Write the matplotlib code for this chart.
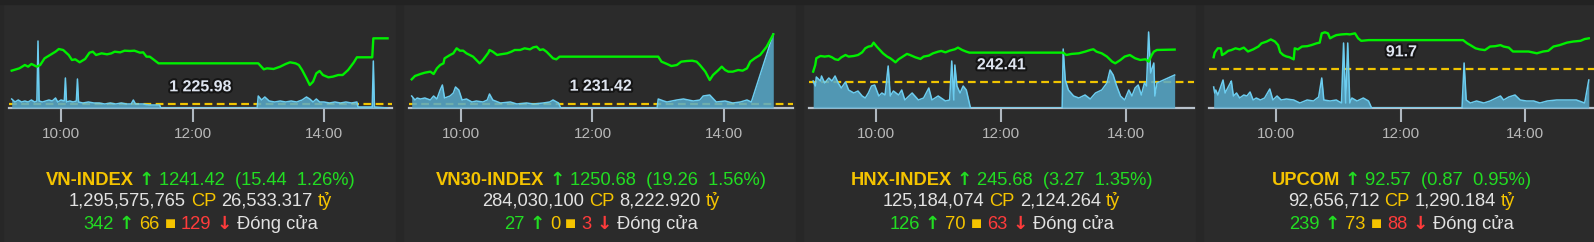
import matplotlib.pyplot as plt
import matplotlib.patheffects as pe
from matplotlib.patches import Rectangle

# Summary numbers under each chart.
names = ["VN-INDEX", "VN30-INDEX", "HNX-INDEX", "UPCOM"]
last = ["1241.42", "1250.68", "245.68", "92.57"]
change = ["15.44", "19.26", "3.27", "0.87"]
pct = ["1.26%", "1.56%", "1.35%", "0.95%"]
shares = ["1,295,575,765", "284,030,100", "125,184,074", "92,656,712"]
turnover = ["26,533.317", "8,222.920", "2,124.264", "1,290.184"]
ups = ["342", "27", "126", "239"]
flats = ["66", "0", "70", "73"]
downs = ["129", "3", "63", "88"]
refs = [1225.98, 1231.42, 242.41, 91.7]
ref_labels = ["1 225.98", "1 231.42", "242.41", "91.7"]

# VN-INDEX intraday
vni_t = ["9:15", "9:22", "9:27", "9:30", "9:33", "9:38", "9:41", "9:45", "9:50", "9:55",
         "9:58", "10:02", "10:07", "10:10", "10:13", "10:17", "10:22", "10:26", "10:29", "10:32",
         "10:37", "10:42", "10:46", "10:49", "10:54", "10:58", "11:03", "11:07", "11:12", "11:15",
         "11:18", "11:21", "11:29", "13:00", "13:05", "13:08", "13:14", "13:20", "13:25", "13:29",
         "13:34", "13:37", "13:40", "13:44", "13:47", "13:50", "13:53", "13:56", "13:59", "14:04",
         "14:08", "14:13", "14:17", "14:22", "14:27", "14:30", "14:44", "14:45", "14:58"]
vni_p = [1233.86, 1234.40, 1235.18, 1234.79, 1235.42, 1234.79, 1235.18, 1236.74, 1237.52, 1238.30,
         1238.92, 1238.69, 1237.52, 1236.35, 1236.51, 1235.81, 1236.59, 1238.07, 1238.30, 1237.52,
         1237.91, 1237.68, 1237.91, 1238.30, 1238.14, 1238.53, 1238.46, 1238.53, 1238.07, 1238.14,
         1237.13, 1237.13, 1235.57, 1235.57, 1234.17, 1234.40, 1234.25, 1234.79, 1235.42, 1235.81,
         1235.57, 1235.18, 1234.01, 1232.06, 1230.50, 1231.28, 1233.23, 1233.78, 1232.84, 1232.30,
         1232.45, 1232.84, 1232.84, 1234.01, 1235.73, 1236.98, 1236.98, 1241.42, 1241.42]
vni_vt = ["9:15", "9:18", "9:21", "9:24", "9:27", "9:30", "9:33", "9:36", "9:38", "9:39",
          "9:40", "9:43", "9:46", "9:49", "9:52", "9:55", "9:57", "10:00", "10:03", "10:04",
          "10:05", "10:08", "10:11", "10:14", "10:15", "10:16", "10:20", "10:25", "10:30", "10:35",
          "10:40", "10:45", "10:50", "10:55", "11:00", "11:04", "11:06", "11:08", "11:15", "11:20",
          "11:25", "11:30", "11:31", "12:59", "13:00", "13:03", "13:06", "13:10", "13:15", "13:20",
          "13:25", "13:30", "13:35", "13:40", "13:44", "13:47", "13:50", "13:53", "13:56", "14:00",
          "14:05", "14:10", "14:15", "14:20", "14:25", "14:30", "14:31", "14:44", "14:45", "14:46",
          "14:58"]
vni_v = [9, 6, 8, 6, 7, 6, 8, 6, 7, 67,
         7, 6, 7, 8, 7, 10, 6, 8, 7, 30,
         6, 7, 6, 7, 29, 6, 5, 6, 5, 5,
         4, 5, 4, 5, 4, 4, 8, 4, 4, 3,
         3, 3, 0, 0, 12, 8, 11, 7, 6, 7,
         6, 7, 6, 8, 11, 9, 6, 9, 6, 6,
         5, 6, 5, 6, 5, 6, 1, 1, 47, 1,
         0]

# VN30-INDEX intraday
vn30_t = ["9:15", "9:18", "9:23", "9:27", "9:32", "9:35", "9:38", "9:41", "9:44", "9:45",
          "9:50", "9:53", "9:56", "9:59", "10:02", "10:05", "10:08", "10:11", "10:14", "10:17",
          "10:20", "10:25", "10:26", "10:29", "10:33", "10:36", "10:42", "10:46", "10:49", "10:54",
          "10:58", "11:03", "11:06", "11:09", "11:12", "11:15", "11:18", "11:21", "11:24", "11:27",
          "11:30", "13:00", "13:03", "13:08", "13:12", "13:17", "13:21", "13:26", "13:31", "13:35",
          "13:38", "13:43", "13:47", "13:50", "13:55", "13:58", "14:01", "14:04", "14:08", "14:13",
          "14:17", "14:21", "14:24", "14:28", "14:33", "14:39", "14:45"]
vn30_p = [1238.18, 1239.11, 1239.66, 1240.03, 1240.31, 1239.66, 1241.23, 1242.16, 1242.62, 1244.01,
          1244.94, 1245.40, 1246.79, 1246.14, 1246.14, 1245.40, 1244.94, 1244.48, 1243.55, 1242.62,
          1243.55, 1245.59, 1246.33, 1245.86, 1244.94, 1245.12, 1245.40, 1245.86, 1246.33, 1246.33,
          1246.79, 1246.51, 1247.07, 1247.25, 1246.33, 1246.51, 1245.86, 1244.94, 1244.01, 1243.73,
          1244.48, 1244.48, 1243.09, 1242.44, 1241.88, 1242.16, 1243.09, 1243.27, 1243.36, 1243.09,
          1242.16, 1240.31, 1237.99, 1239.38, 1240.77, 1241.70, 1240.77, 1240.31, 1240.31, 1240.77,
          1240.59, 1241.23, 1243.09, 1244.01, 1244.94, 1247.25, 1250.68]
vn30_vt = ["9:15", "9:18", "9:20", "9:23", "9:27", "9:32", "9:35", "9:38", "9:41", "9:43",
           "9:45", "9:50", "9:53", "9:55", "9:58", "10:01", "10:05", "10:10", "10:14", "10:20",
           "10:24", "10:26", "10:29", "10:36", "10:45", "10:51", "11:00", "11:06", "11:15", "11:21",
           "11:24", "11:29", "11:31", "12:59", "13:00", "13:05", "13:08", "13:17", "13:23", "13:32",
           "13:38", "13:41", "13:47", "13:53", "14:01", "14:08", "14:15", "14:21", "14:25", "14:45"]
vn30_v = [12, 8, 10, 9, 10, 8, 12, 9, 18, 23,
          10, 12, 15, 21, 18, 8, 9, 6, 7, 6,
          8, 14, 8, 5, 6, 4, 5, 4, 5, 6,
          8, 5, 0, 0, 9, 7, 6, 8, 9, 7,
          8, 12, 13, 6, 7, 5, 6, 8, 6, 74]

# HNX-INDEX intraday
hnx_t = ["9:00", "9:02", "9:03", "9:07", "9:11", "9:15", "9:18", "9:21", "9:24", "9:27",
         "9:31", "9:34", "9:39", "9:43", "9:47", "9:50", "9:53", "9:56", "9:58", "10:01",
         "10:04", "10:07", "10:11", "10:14", "10:17", "10:19", "10:22", "10:25", "10:30", "10:33",
         "10:38", "10:43", "10:46", "10:51", "10:55", "11:00", "11:03", "11:07", "11:11", "11:16",
         "11:19", "11:23", "11:27", "11:30", "13:00", "13:03", "13:08", "13:15", "13:21", "13:26",
         "13:29", "13:32", "13:37", "13:42", "13:47", "13:50", "13:55", "13:59", "14:04", "14:09",
         "14:14", "14:19", "14:22", "14:25", "14:27", "14:30", "14:47"]
hnx_p = [243.49, 244.16, 244.84, 245.07, 245.01, 245.07, 244.94, 244.74, 244.67, 244.94,
         245.17, 245.01, 245.07, 245.17, 245.44, 245.85, 246.02, 246.08, 246.42, 246.02,
         245.68, 245.34, 245.01, 244.84, 244.60, 244.43, 244.74, 244.94, 245.28, 245.17,
         244.94, 244.77, 245.01, 245.11, 245.34, 245.51, 245.58, 245.44, 245.61, 245.75,
         245.92, 245.68, 245.51, 245.41, 245.41, 245.17, 245.28, 245.34, 245.51, 245.68,
         245.75, 245.51, 245.34, 245.01, 244.50, 244.33, 244.67, 245.01, 245.17, 244.84,
         244.67, 244.74, 244.50, 245.17, 245.51, 245.68, 245.72]
hnx_vt = ["9:00", "9:02", "9:03", "9:07", "9:08", "9:11", "9:15", "9:18", "9:21", "9:24",
          "9:27", "9:31", "9:34", "9:39", "9:43", "9:47", "9:50", "9:53", "9:56", "9:59",
          "10:03", "10:06", "10:09", "10:12", "10:14", "10:17", "10:22", "10:25", "10:28", "10:35",
          "10:41", "10:46", "10:51", "10:54", "11:00", "11:07", "11:11", "11:13", "11:15", "11:16",
          "11:18", "11:21", "11:24", "11:27", "11:31", "12:59", "13:00", "13:02", "13:05", "13:10",
          "13:15", "13:21", "13:26", "13:31", "13:37", "13:42", "13:45", "13:48", "13:51", "13:55",
          "13:59", "14:03", "14:06", "14:09", "14:12", "14:15", "14:18", "14:20", "14:22", "14:24",
          "14:27", "14:28", "14:30", "14:47"]
hnx_v = [27, 22, 31, 27, 32, 25, 30, 27, 32, 25,
         20, 26, 18, 15, 17, 12, 10, 15, 22, 23,
         12, 15, 13, 42, 12, 17, 13, 18, 8, 15,
         8, 10, 20, 8, 12, 7, 8, 47, 8, 43,
         22, 15, 22, 18, 0, 0, 59, 28, 18, 12,
         10, 13, 9, 15, 18, 25, 38, 33, 23, 12,
         8, 18, 12, 20, 23, 13, 25, 22, 76, 35,
         45, 12, 25, 33]

# UPCOM intraday
upc_t = ["9:00", "9:01", "9:04", "9:07", "9:08", "9:11", "9:14", "9:17", "9:21", "9:25",
         "9:29", "9:33", "9:38", "9:43", "9:46", "9:51", "9:55", "9:59", "10:02", "10:04",
         "10:07", "10:10", "10:13", "10:17", "10:18", "10:21", "10:25", "10:30", "10:34", "10:39",
         "10:42", "10:44", "10:47", "10:50", "10:52", "10:55", "10:58", "11:03", "11:08", "11:11",
         "11:16", "11:19", "11:22", "11:29", "13:00", "13:04", "13:07", "13:12", "13:16", "13:21",
         "13:26", "13:31", "13:36", "13:39", "13:44", "13:48", "13:53", "13:58", "14:03", "14:11",
         "14:17", "14:22", "14:27", "14:33", "14:40", "14:46", "14:53", "14:57", "15:01"]
upc_p = [92.04, 92.17, 92.29, 92.29, 92.10, 92.15, 92.22, 92.24, 92.29, 92.26,
         92.31, 92.20, 92.26, 92.34, 92.43, 92.48, 92.54, 92.48, 92.38, 92.18,
         92.10, 92.06, 92.04, 91.98, 92.29, 92.26, 92.34, 92.35, 92.38, 92.43,
         92.45, 92.71, 92.74, 92.71, 92.57, 92.62, 92.66, 92.68, 92.69, 92.68,
         92.71, 92.57, 92.50, 92.52, 92.52, 92.43, 92.38, 92.29, 92.26, 92.24,
         92.34, 92.35, 92.38, 92.34, 92.31, 92.20, 92.20, 92.20, 92.20, 92.15,
         92.20, 92.22, 92.34, 92.38, 92.45, 92.48, 92.50, 92.55, 92.57]
upc_vt = ["9:00", "9:01", "9:02", "9:04", "9:08", "9:09", "9:11", "9:14", "9:16", "9:17",
          "9:19", "9:22", "9:25", "9:29", "9:32", "9:35", "9:38", "9:41", "9:45", "9:49",
          "9:54", "9:57", "10:01", "10:05", "10:10", "10:17", "10:23", "10:30", "10:36", "10:41",
          "10:44", "10:46", "10:52", "10:58", "11:03", "11:05", "11:07", "11:09", "11:11", "11:13",
          "11:18", "11:24", "11:29", "11:32", "12:59", "13:01", "13:03", "13:07", "13:13", "13:20",
          "13:26", "13:36", "13:39", "13:44", "13:50", "13:55", "14:01", "14:08", "14:14", "14:21",
          "14:30", "14:37", "14:43", "14:49", "14:57", "15:01"]
upc_v = [21, 15, 18, 13, 25, 28, 15, 21, 25, 27,
         12, 15, 10, 13, 12, 16, 8, 10, 8, 10,
         19, 8, 12, 8, 9, 8, 5, 8, 7, 11,
         30, 8, 7, 8, 5, 65, 5, 65, 5, 10,
         7, 10, 7, 0, 0, 45, 8, 5, 7, 5,
         7, 12, 8, 11, 13, 8, 7, 7, 5, 7,
         8, 8, 8, 8, 5, 28]

# Colours
BG = "#2b2b2b"
GOLD = "#f5c400"
GREEN = "#22dd22"
RED = "#ff3b3b"
LIGHT = "#e2e2e2"
LINE_GREEN = "#00f000"
VOL_FILL = "#58abcc"
VOL_EDGE = "#6ccdf0"
FONT = ["Liberation Sans", "DejaVu Sans"]
ARROW_FONT = ["DejaVu Sans"]

W, H = 1594, 242


def hours(s):
    h, m = s.split(":")
    return int(h) + int(m) / 60.0


series = [(vni_t, vni_p, vni_vt, vni_v),
          (vn30_t, vn30_p, vn30_vt, vn30_v),
          (hnx_t, hnx_p, hnx_vt, hnx_v),
          (upc_t, upc_p, upc_vt, upc_v)]

# Layout of each small chart: pixel span of the axis line, time range, price range.
ax_px = [(9, 392), (409, 793), (809, 1194), (1209, 1594)]
x_range = [(9.209, 15.034), (9.209, 15.05), (8.933, 15.093), (8.925, 15.10)]
y_range = [(1225.12, 1247.58), (1230.22, 1256.88), (239.81, 249.52), (90.615, 93.309)]
AX_TOP, AX_BOT = 12, 108

fig = plt.figure(figsize=(W / 100, H / 100), dpi=100, facecolor=BG)

# Darker strips between the cards.
for x0, x1 in [(0, 3), (396, 403), (796, 803), (1196, 1203)]:
    fig.patches.append(Rectangle((x0 / W, 0), (x1 - x0) / W, 1, transform=fig.transFigure,
                                 color="#272727", zorder=0))
fig.patches.append(Rectangle((0, 1 - 4 / H), 1, 4 / H, transform=fig.transFigure,
                             color="#222222", zorder=0))

for i in range(4):
    l, r = ax_px[i]
    pt, pv, vt, vv = series[i]
    ax = fig.add_axes([l / W, (H - AX_BOT) / H, (r - l) / W, (AX_BOT - AX_TOP) / H])
    axv = ax.twinx()
    axg = ax.twinx()
    for a in (ax, axv, axg):
        a.set_facecolor("none")
        a.set_yticks([])
        for s in a.spines.values():
            s.set_visible(False)
    ax.set_xlim(*x_range[i])
    ax.set_ylim(*y_range[i])
    axg.set_ylim(*y_range[i])
    axv.set_ylim(0, AX_BOT - AX_TOP)

    # Previous close (dashed, beneath the volume area).
    ax.axhline(refs[i], color="#f0c400", lw=1.6, ls=(0, (3.5, 2)))

    xs = [hours(t) for t in vt]
    axv.fill_between(xs, vv, 0, color=VOL_FILL, alpha=0.85, lw=0)
    axv.plot(xs, vv, color=VOL_EDGE, lw=1.1)

    axg.plot([hours(t) for t in pt], pv, color=LINE_GREEN, lw=1.7)
    axg.annotate(ref_labels[i], xy=(0.5, refs[i]), xycoords=("axes fraction", "data"),
                 xytext=(0, 12.6), textcoords="offset points", ha="center", va="center",
                 fontsize=11.5, fontweight="bold", color="#dfe5f0", family=FONT,
                 path_effects=[pe.withStroke(linewidth=3, foreground="#151515")])

    ax.spines["bottom"].set_visible(True)
    ax.spines["bottom"].set_color("#b8c2cc")
    ax.spines["bottom"].set_linewidth(1.6)
    ax.set_xticks([10, 12, 14])
    ax.set_xticklabels(["10:00", "12:00", "14:00"], family=FONT)
    ax.tick_params(axis="x", length=10, width=1.5, color="#b0b8c0", labelcolor="#b8b8b8",
                   labelsize=11, pad=3.5)

renderer = fig.canvas.get_renderer()


def put_row(cx, y, pieces, size=13.2):
    texts = []
    for s, color, weight, fam in pieces:
        texts.append(fig.text(0, 1 - y / H, s, color=color, fontsize=size, fontweight=weight,
                              family=fam, ha="left", va="baseline"))
    widths = [t.get_window_extent(renderer).width for t in texts]
    gap = 0.278 * size * 100 / 72
    total = sum(widths) + gap * (len(texts) - 1)
    x = cx - total / 2
    for t, w in zip(texts, widths):
        t.set_x(x / W)
        x += w + gap


for i in range(4):
    cx = sum(ax_px[i]) / 2
    put_row(cx, 185, [(names[i], GOLD, "bold", FONT), ("\u2191", GREEN, "bold", ARROW_FONT),
                      ("%s  (%s  %s)" % (last[i], change[i], pct[i]), GREEN, "normal", FONT)])
    put_row(cx, 206, [(shares[i], LIGHT, "normal", FONT), ("CP", GOLD, "normal", FONT),
                      (turnover[i], LIGHT, "normal", FONT), ("tỷ", GOLD, "normal", FONT)])
    put_row(cx, 229, [(ups[i], GREEN, "normal", FONT), ("\u2191", GREEN, "bold", ARROW_FONT),
                      (flats[i], GOLD, "normal", FONT), ("\u25a0", GOLD, "normal", FONT),
                      (downs[i], RED, "normal", FONT), ("\u2193", RED, "bold", ARROW_FONT),
                      ("Đóng cửa", LIGHT, "normal", FONT)])

fig.savefig("out.png", dpi=100, facecolor=BG)
